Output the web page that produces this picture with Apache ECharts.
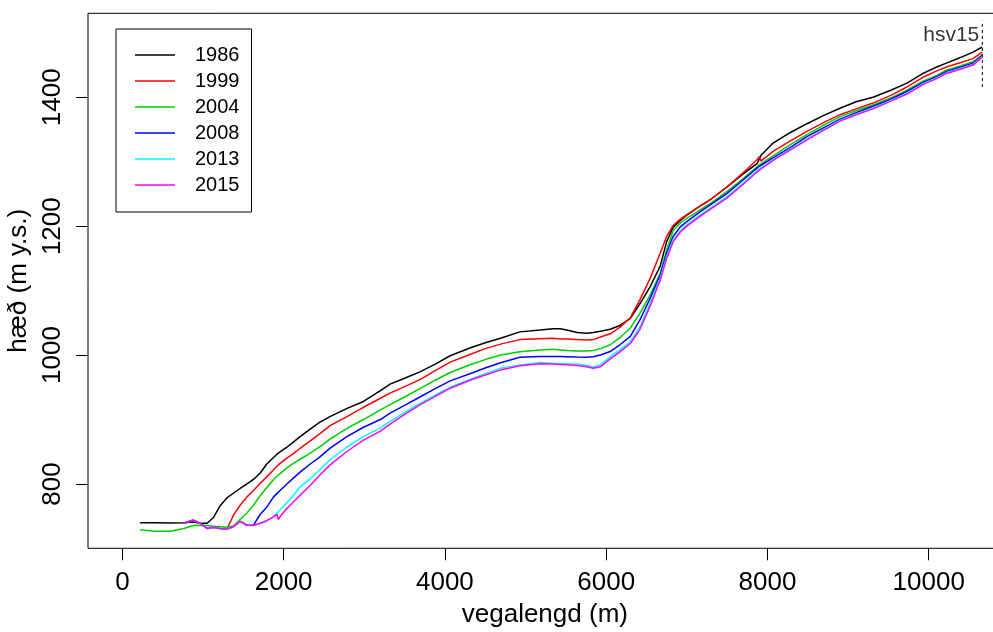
<!DOCTYPE html>
<html>
<head>
<meta charset="utf-8">
<script src="https://cdn.jsdelivr.net/npm/echarts@6/dist/echarts.min.js"></script>
<style>
html,body{margin:0;padding:0;background:#fff;}
#chart{width:993px;height:632px;}
</style>
</head>
<body>
<div id="chart"></div>
<script>
// distance along profile (m)
const distance = [220, 400, 600, 760, 880, 965, 1050, 1130, 1210, 1300, 1380, 1460, 1545, 1625, 1710, 1790, 1875, 1915, 1935, 1955, 2040, 2120, 2200, 2330, 2450, 2580, 2780, 2990, 3200, 3320, 3500, 3690, 3880, 4065, 4310, 4500, 4690, 4930, 5180, 5340, 5430, 5510, 5640, 5760, 5840, 5930, 6050, 6170, 6300, 6420, 6545, 6670, 6750, 6830, 6920, 7000, 7150, 7290, 7500, 7700, 7870, 7900, 7920, 8070, 8280, 8490, 8700, 8900, 9100, 9310, 9530, 9730, 9930, 10100, 10220, 10400, 10550, 10665];

const years = ['1986', '1999', '2004', '2008', '2013', '2015'];
const colors = ['#000000', '#FF0000', '#00CD00', '#0000FF', '#00FFFF', '#FF00FF'];

const h1986 = [740, 740, 739.5, 740, 741, 739, 739, 748, 766, 779, 786, 793, 800, 807, 817, 831, 841, 846, 848, 850, 857, 865, 873, 885, 896, 905, 917, 928, 945, 955, 964, 974, 986, 999, 1011, 1019, 1026, 1036, 1039, 1041, 1041, 1039, 1035, 1034, 1035, 1037, 1040, 1046, 1057, 1080, 1106, 1138, 1176, 1198, 1209, 1217, 1230, 1241, 1261, 1281, 1297, 1304, 1310, 1329, 1345, 1359, 1372, 1383, 1393, 1400, 1411, 1422, 1437, 1447, 1453, 1462, 1470, 1478];
const h1999 = [null, null, null, 739, 744, 739, 731, 733, 731, 731, 752, 767, 780, 790, 801, 811, 822, 827, 830, 832, 840, 847, 855, 867, 878, 891, 904, 919, 933, 941, 951, 962, 976, 989, 1001, 1010, 1017, 1024, 1025.5, 1026, 1025, 1025, 1024, 1023.5, 1024, 1028, 1033, 1043, 1058, 1086, 1119, 1158, 1184, 1201, 1211, 1218, 1230, 1241, 1261, 1283, 1303, 1308, 1301, 1316, 1332, 1347, 1361, 1373, 1382, 1391, 1403, 1416, 1431, 1441, 1447, 1454, 1460, 1470];
const h2004 = [729, 726.5, 726.5, 731, 735.5, 736, 735.5, 734.5, 734, 733, 735, 745, 755, 767, 782, 794, 807, 812, 814, 816, 825, 832, 838, 848, 858, 870, 886, 900, 915, 923, 935, 948, 961, 973, 985, 993, 1000, 1005, 1008, 1009, 1008, 1007, 1006.5, 1006.5, 1007, 1010, 1016, 1027, 1042, 1065, 1093, 1127, 1163, 1193, 1205, 1212, 1224, 1235, 1254, 1274, 1292, 1295, 1297, 1309, 1326, 1342, 1357, 1370, 1379, 1388, 1399, 1411, 1425, 1434, 1442, 1449, 1455, 1466];
const h2008 = [null, null, null, 739, 744, 739, 731, 733, 731, 730, 734, 742, 736, 736, 753, 764, 780, 785, 788, 790, 800, 809, 818, 831, 842, 856, 873, 888, 900, 910, 922, 935, 948, 960, 971, 980, 988, 996.5, 997.7, 997.7, 997.7, 997.5, 997, 996.7, 997.5, 1000, 1005.5, 1016, 1029, 1055, 1088, 1124, 1158, 1184, 1199, 1207, 1221, 1233, 1251, 1272, 1290, 1293, 1295, 1306, 1322, 1339, 1353, 1366, 1376, 1386, 1397, 1409, 1423, 1432, 1440, 1447, 1453, 1465];
const h2013 = [null, null, null, 739, 744, 739, 731, 733, 731, 730, 734, 742, 736, 735.5, 739, 743, 749, 755, 757, 760, 771, 782, 795, 808, 822, 838, 857, 873.6, 887, 897, 911, 925, 938, 950, 962, 971, 979.7, 984.8, 988.4, 987.5, 987, 986.5, 986, 984, 981.5, 985, 997.7, 1008, 1021, 1044, 1080.5, 1119, 1153, 1178.7, 1193, 1202, 1216, 1228, 1246, 1267, 1286, 1289, 1291, 1303, 1319, 1335, 1350, 1364, 1374, 1383, 1395, 1406, 1421, 1430, 1438, 1445, 1451, 1463];
const h2015 = [null, null, null, 739, 744, 739, 731, 733, 731, 730, 734, 742, 736, 735.5, 739, 743, 749, 753, 745, 749, 762, 772, 782, 798, 814, 830, 850, 868, 882, 893, 908, 922.7, 936, 948.6, 961, 969, 977, 983.5, 986.5, 986, 985.5, 985, 984, 982, 979.5, 982, 994, 1005, 1018, 1040, 1076, 1116, 1150, 1176, 1191, 1200, 1214, 1226, 1244, 1265, 1284, 1287, 1289, 1302, 1318, 1334, 1349, 1363, 1373, 1382, 1394, 1405, 1420, 1429, 1437, 1444, 1450, 1462];

const seriesValues = [h1986, h1999, h2004, h2008, h2013, h2015];

// tick values
const xTicks = [0, 2000, 4000, 6000, 8000, 10000];
const yTicks = [800, 1000, 1200, 1400];

// marker hsv15 at end of profile
const markerName = 'hsv15';
const markerX = 10665;
const markerY = [1416, 1519];
const markerLabelY = 1497;

const FONT = "'Liberation Sans', Arial, Helvetica, sans-serif";

const series = years.map((y, k) => ({
  name: y,
  type: 'line',
  symbol: 'none',
  showSymbol: false,
  smooth: false,
  lineStyle: { color: colors[k], width: 1.5 },
  itemStyle: { color: colors[k] },
  data: distance.map((d, i) => [d, seriesValues[k][i]]).filter(p => p[1] !== null),
  z: 3 + k
}));

series.push({
  name: 'marker',
  type: 'line',
  symbol: 'none',
  lineStyle: { color: '#000', width: 1, type: [3, 3] },
  data: markerY.map(v => [markerX, v]),
  z: 10
});
series.push({
  name: 'markerLabel',
  type: 'scatter',
  symbolSize: 0,
  data: [[markerX, markerLabelY]],
  label: {
    show: true, position: 'left', distance: 3, formatter: markerName,
    color: '#000', fontSize: 21, fontFamily: FONT
  },
  z: 10
});

const chart = echarts.init(document.getElementById('chart'), null, { renderer: 'canvas' });
chart.setOption({
  animation: false,
  backgroundColor: '#fff',
  textStyle: { fontFamily: FONT },
  grid: {
    left: 88, top: 13.3, right: -23.7, bottom: 83.7,
    show: true, borderColor: '#000', borderWidth: 1, backgroundColor: 'transparent',
    containLabel: false, outerBoundsMode: 'none'
  },
  legend: {
    data: years,
    orient: 'vertical',
    left: 116, top: 29,
    padding: [16, 12, 17, 19],
    borderColor: '#000', borderWidth: 1, borderRadius: 0,
    icon: 'rect',
    itemWidth: 40, itemHeight: 1.5, itemGap: 6,
    textStyle: { fontSize: 20, lineHeight: 20, color: '#000', fontFamily: FONT, padding: [0, 0, 0, 15] },
    selectedMode: false
  },
  xAxis: {
    type: 'value',
    min: -426.6, max: 11091.6,
    name: 'vegalengd (m)',
    nameLocation: 'middle',
    nameGap: 54,
    nameTextStyle: { fontSize: 26, color: '#000', fontFamily: FONT, padding: [0, 15, 0, 0] },
    axisLine: { show: false, onZero: false },
    axisTick: { show: true, inside: false, length: 12, lineStyle: { color: '#000', width: 1 }, customValues: xTicks },
    axisLabel: { show: true, fontSize: 26, color: '#000', margin: 22, customValues: xTicks, fontFamily: FONT, formatter: v => String(v) },
    splitLine: { show: false }
  },
  yAxis: {
    type: 'value',
    min: 700.2, max: 1530.3,
    name: 'hæð (m y.s.)',
    nameLocation: 'middle',
    nameGap: 50,
    nameTextStyle: { fontSize: 26, color: '#000', fontFamily: FONT },
    axisLine: { show: false, onZero: false },
    axisTick: { show: true, inside: false, length: 12, lineStyle: { color: '#000', width: 1 }, customValues: yTicks },
    axisLabel: { show: true, fontSize: 26, color: '#000', margin: 22, rotate: 90, customValues: yTicks, fontFamily: FONT, formatter: v => String(v) },
    splitLine: { show: false }
  },
  series: series
});
</script>
</body>
</html>
